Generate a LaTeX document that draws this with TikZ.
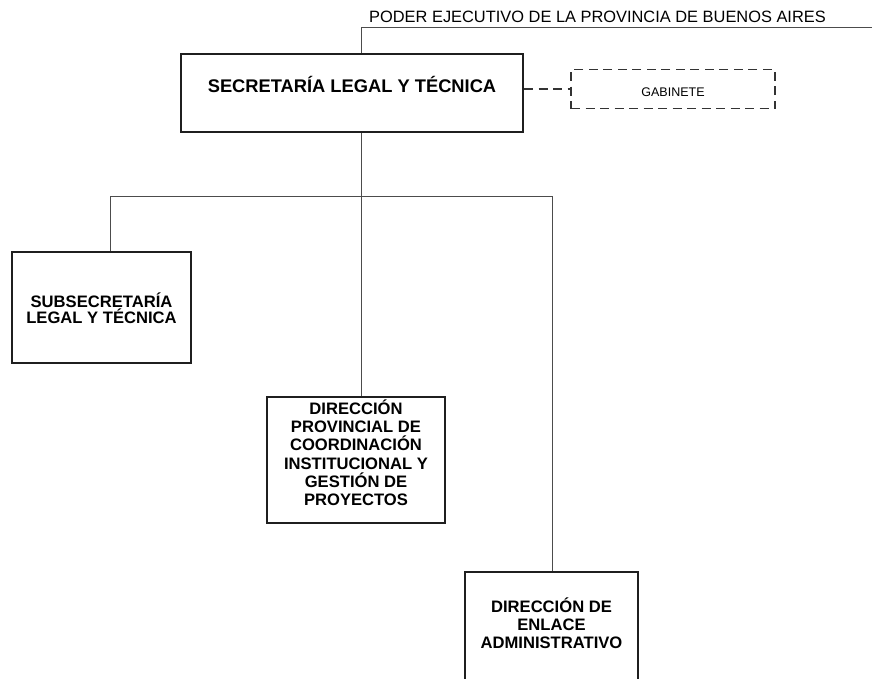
\documentclass[tikz,border=0pt]{standalone}
\usepackage{fontspec}
\setmainfont{Liberation Sans}
\begin{document}
\begin{tikzpicture}[x=1pt,y=-1pt,
  box/.style={draw=black!88, line width=2pt, fill=white, align=center, inner sep=0pt, anchor=north,
    font=\bfseries\fontsize{16.6}{18.3}\selectfont},
  conn/.style={draw=black!70, line width=1pt},
  dashconn/.style={draw=black!80, line width=1.5pt, dash pattern=on 9pt off 5.5pt},
]
\clip (0,0) rectangle (872,679);
\fill[white] (0,0) rectangle (872,679);
% boxes
\node[box, minimum width=342pt, text height=38.7pt, text depth=39.3pt,
  font=\bfseries\fontsize{18.3}{20}\selectfont] (main) at (352,53) {SECRETARÍA LEGAL Y TÉCNICA};
\node[box, draw=black!80, line width=1.5pt, dash pattern=on 9pt off 5.5pt, minimum width=204pt,
  text height=27pt, text depth=12pt, font=\fontsize{12.5}{15}\selectfont] (gab) at (673,69) {GABINETE};
\node[box, minimum width=179pt, text height=71.3pt, text depth=39.7pt,
  font=\bfseries\fontsize{16.6}{16.3}\selectfont] (sub) at (101.5,251) {SUBSECRETARÍA\\LEGAL Y TÉCNICA};
\node[box, minimum width=178pt, text height=108.8pt, text depth=17.2pt] (dprov) at (356,396)
  {DIRECCIÓN\\PROVINCIAL DE\\COORDINACIÓN\\INSTITUCIONAL Y\\GESTIÓN DE\\PROYECTOS};
\node[box, minimum width=173pt, text height=76.6pt, text depth=60pt] (enlace) at (551.5,571)
  {DIRECCIÓN DE\\ENLACE\\ADMINISTRATIVO};
% top label and line
\node[anchor=base west, inner sep=0pt, font=\fontsize{16.4}{19}\selectfont] (pe) at (369,22.5)
  {PODER EJECUTIVO DE LA PROVINCIA DE BUENOS AIRES};
\coordinate (pel) at (361,28);
\coordinate (per) at (872,28);
\draw[conn] (per) -- (pel) -- (pel |- main.north);
% tree connectors
\coordinate (trunk) at (361,196);
\coordinate (bl) at (110,196);
\coordinate (br) at (552,196);
\draw[conn] (main.south -| trunk) -- (dprov.north -| trunk);
\draw[conn] (sub.north -| bl) -- (bl) -- (br) -- (enlace.north -| br);
% dashed link
\draw[dashconn] (main.east |- gab.west) -- (gab.west);
\end{tikzpicture}
\end{document}
